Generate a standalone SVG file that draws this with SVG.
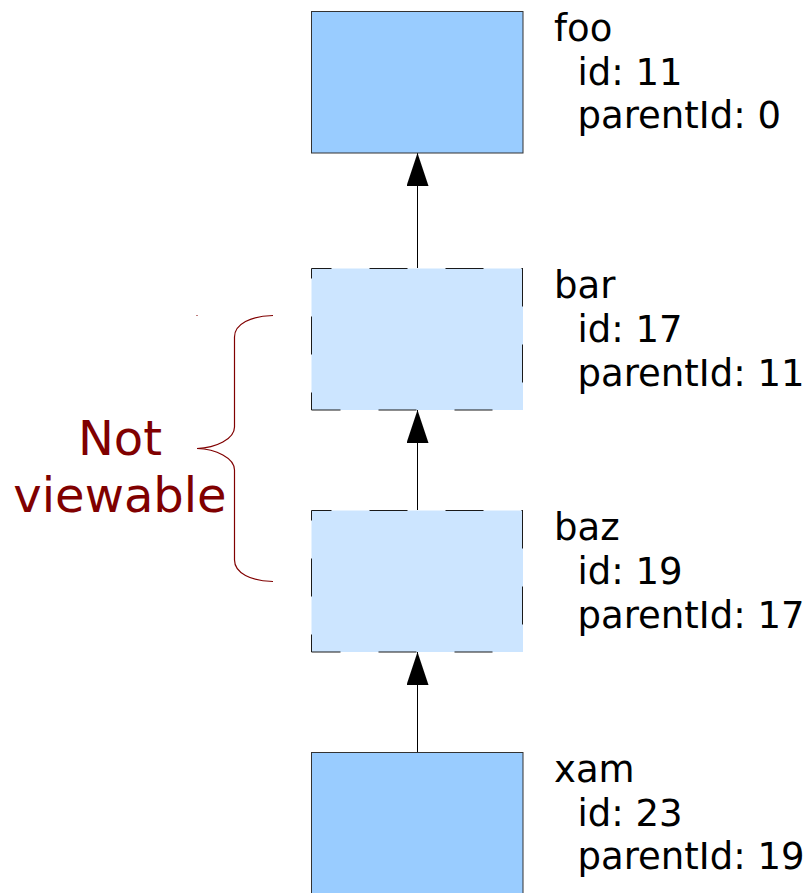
<svg xmlns="http://www.w3.org/2000/svg" width="811" height="893" viewBox="0 0 811 893">
  <style>
    .solid { fill: #99ccff; stroke: #333333; stroke-width: 1; }
    .ghost { fill: #cce5ff; stroke: none; }
    .dash { stroke: #1a1a1a; stroke-width: 1; stroke-dasharray: 38 38; fill: none; }
    .label { font-family: "DejaVu Sans", "Liberation Sans", sans-serif; font-size: 37px; fill: #000000; }
    .note { font-family: "DejaVu Sans", "Liberation Sans", sans-serif; font-size: 48px; fill: #800000; text-anchor: middle; }
    .edge { stroke: #000000; stroke-width: 1; fill: none; marker-end: url(#head); }
    .brace { stroke: #800000; stroke-width: 1.2; fill: none; }
  </style>
  <defs>
    <marker id="head" markerUnits="userSpaceOnUse" markerWidth="33" markerHeight="22" refX="33" refY="11" orient="auto">
      <path d="M0,0 L33,11 L0,22 Z" fill="#000000"/>
    </marker>
  </defs>

  <rect width="811" height="893" fill="#ffffff"/>

  <!-- parent links -->
  <g id="connectors">
    <line class="edge" x1="417.5" y1="268" x2="417.5" y2="153"/>
    <line class="edge" x1="417.5" y1="510" x2="417.5" y2="410"/>
    <line class="edge" x1="417.5" y1="752" x2="417.5" y2="652"/>
  </g>

  <g id="foo">
    <rect class="solid" x="311.5" y="11.5" width="211.5" height="141.5"/>
    <text class="label" x="554" y="41">foo</text>
    <text class="label" x="577.5" y="85">id: 11</text>
    <text class="label" x="577.5" y="128">parentId: 0</text>
  </g>

  <g id="bar">
    <rect class="ghost" x="311.5" y="268.5" width="211.5" height="141.5"/>
    <line class="dash" x1="311.5" y1="268.5" x2="523" y2="268.5" stroke-dashoffset="18"/>
    <line class="dash" x1="522.5" y1="268.5" x2="522.5" y2="410" stroke-dashoffset="0"/>
    <line class="dash" x1="311.5" y1="410" x2="523" y2="410" stroke-dashoffset="9"/>
    <line class="dash" x1="311.5" y1="268.5" x2="311.5" y2="410" stroke-dashoffset="28"/>
    <text class="label" x="554" y="298">bar</text>
    <text class="label" x="577.5" y="342">id: 17</text>
    <text class="label" x="577.5" y="386">parentId: 11</text>
  </g>

  <g id="baz">
    <rect class="ghost" x="311.5" y="510.5" width="211.5" height="141.5"/>
    <line class="dash" x1="311.5" y1="510.5" x2="523" y2="510.5" stroke-dashoffset="18"/>
    <line class="dash" x1="522.5" y1="510.5" x2="522.5" y2="652" stroke-dashoffset="0"/>
    <line class="dash" x1="311.5" y1="652" x2="523" y2="652" stroke-dashoffset="9"/>
    <line class="dash" x1="311.5" y1="510.5" x2="311.5" y2="652" stroke-dashoffset="28"/>
    <text class="label" x="554" y="540">baz</text>
    <text class="label" x="577.5" y="584">id: 19</text>
    <text class="label" x="577.5" y="628">parentId: 17</text>
  </g>

  <g id="xam">
    <rect class="solid" x="311.5" y="752.5" width="211.5" height="160"/>
    <text class="label" x="554" y="782">xam</text>
    <text class="label" x="577.5" y="826">id: 23</text>
    <text class="label" x="577.5" y="869">parentId: 19</text>
  </g>

  <g id="not-viewable">
    <path class="brace" d="M273,315.5 C251,316 234.5,324 234.5,337 L234.5,427 C234.5,439 216,448 197,448.5 C216,449 234.5,458 234.5,470 L234.5,560 C234.5,573 251,581 273,581.5"/>
    <line x1="196" y1="315.5" x2="198" y2="315.5" stroke="#800000" stroke-width="1" opacity="0.5"/>
    <text class="note" x="120" y="455">Not</text>
    <text class="note" x="120" y="512">viewable</text>
  </g>
</svg>
